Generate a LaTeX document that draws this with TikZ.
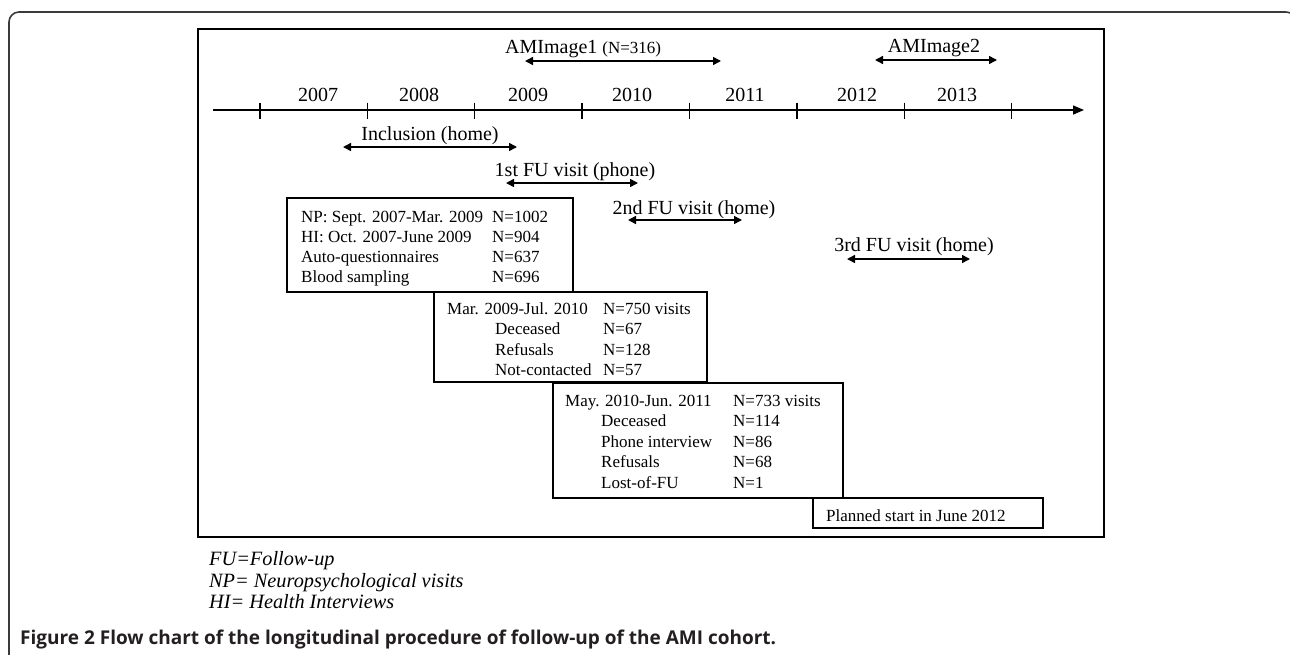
\documentclass[tikz,border=0pt]{standalone}
\usepackage{fontspec}
\setmainfont{Liberation Serif}
\newfontfamily\capfont{Open Sans}
\usetikzlibrary{arrows.meta}
\definecolor{framegray}{HTML}{3A3A3A}
\definecolor{capcol}{HTML}{231F20}
\begin{document}
\begin{tikzpicture}[x=1pt,y=-1pt,
  tl/.style={font=\fontsize{20}{24}\selectfont, inner sep=0pt, anchor=base},
  bt/.style={font=\fontsize{17}{20}\selectfont, inner sep=0pt, anchor=base west},
  fn/.style={font=\itshape\fontsize{20.3}{22}\selectfont, inner sep=0pt, anchor=base west},
  bx/.style={draw, line width=1.5pt, inner sep=0pt, outer sep=0pt, anchor=north west},
  span/.style={{Triangle[length=8pt,width=8pt]}-{Triangle[length=8pt,width=8pt]}, line width=1.5pt},
  axisline/.style={-{Triangle[length=11pt,width=9pt]}, line width=1.5pt},
  tick/.style={line width=1.6pt}]
\useasboundingbox (0,0) rectangle (1290,654);
% outer frame
\begin{scope}
  \clip (0,0) rectangle (1290,654);
  \draw[framegray, line width=1.6pt, rounded corners=10pt] (9,700) -- (9,12) -- (1296,12) -- (1296,700);
\end{scope}
% inner frame
\node[bx, line width=1.9pt, minimum width=906pt, minimum height=508pt] (frame) at (198,29) {};
% axis
\coordinate (axS) at (213,110);
\coordinate (axE) at (1084,110);
\draw[axisline] (axS) -- (axE);
\foreach \x in {260,367.3,474.6,582,689.5,797,904.3,1011.6}
  \draw[tick] (\x,102.5) -- (\x,118.5);
% years
\node[tl] (y2007) at (318,101.5) {2007};
\node[tl] (y2008) at (419,101.5) {2008};
\node[tl] (y2009) at (528,101.5) {2009};
\node[tl] (y2010) at (632,101.5) {2010};
\node[tl] (y2011) at (745,101.5) {2011};
\node[tl] (y2012) at (857,101.5) {2012};
\node[tl] (y2013) at (957,101.5) {2013};
% AMImage
\node[tl, anchor=base west] (ami1) at (505,53) {AMImage1 {\fontsize{17}{20}\selectfont(N=316)}};
\coordinate (ami1L) at (525,61);
\coordinate (ami1R) at (721,61);
\draw[span] (ami1L) -- (ami1R);
\node[tl] (ami2) at (934,52) {AMImage2};
\coordinate (ami2L) at (875,60);
\coordinate (ami2R) at (997,60);
\draw[span] (ami2L) -- (ami2R);
% periods
\node[tl] (incl) at (430,140) {Inclusion (home)};
\coordinate (inclL) at (343,147);
\coordinate (inclR) at (517,147);
\draw[span] (inclL) -- (inclR);
\node[tl] (fu1) at (575,176) {1st FU visit (phone)};
\coordinate (fu1L) at (506,183);
\coordinate (fu1R) at (638,183);
\draw[span] (fu1L) -- (fu1R);
\node[tl] (fu2) at (694,214) {2nd FU visit (home)};
\coordinate (fu2L) at (628,220);
\coordinate (fu2R) at (742,220);
\draw[span] (fu2L) -- (fu2R);
\node[tl] (fu3) at (914,251) {3rd FU visit (home)};
\coordinate (fu3L) at (847,259);
\coordinate (fu3R) at (970,259);
\draw[span] (fu3L) -- (fu3R);
% box 1
\node[bx, minimum width=286pt, minimum height=94pt] (b1) at (287,198) {};
\node[bt] (b1a) at (301,222.5) {NP: Sept. 2007-Mar. 2009};
\node[bt] (b1b) at (301,242.5) {HI: Oct. 2007-June 2009};
\node[bt] (b1c) at (301,262.5) {Auto-questionnaires};
\node[bt] (b1d) at (301,282.5) {Blood sampling};
\node[bt] (b1an) at (492,222.5) {N=1002};
\node[bt] (b1bn) at (492,242.5) {N=904};
\node[bt] (b1cn) at (492,262.5) {N=637};
\node[bt] (b1dn) at (492,282.5) {N=696};
% box 2
\node[bx, minimum width=273pt, minimum height=90pt] (b2) at (434,292) {};
\node[bt] (b2a) at (447,314) {Mar. 2009-Jul. 2010};
\node[bt] (b2b) at (495,334.5) {Deceased};
\node[bt] (b2c) at (495,355) {Refusals};
\node[bt] (b2d) at (495,375.5) {Not-contacted};
\node[bt] (b2an) at (603,314) {N=750 visits};
\node[bt] (b2bn) at (603,334.5) {N=67};
\node[bt] (b2cn) at (603,355) {N=128};
\node[bt] (b2dn) at (603,375.5) {N=57};
% box 3
\node[bx, minimum width=290pt, minimum height=115pt] (b3) at (553,383) {};
\node[bt] (b3a) at (565,406) {May. 2010-Jun. 2011};
\node[bt] (b3b) at (601,426.5) {Deceased};
\node[bt] (b3c) at (601,447) {Phone interview};
\node[bt] (b3d) at (601,467.5) {Refusals};
\node[bt] (b3e) at (601,488) {Lost-of-FU};
\node[bt] (b3an) at (733,406) {N=733 visits};
\node[bt] (b3bn) at (733,426.5) {N=114};
\node[bt] (b3cn) at (733,447) {N=86};
\node[bt] (b3dn) at (733,467.5) {N=68};
\node[bt] (b3en) at (733,488) {N=1};
% box 4
\node[bx, minimum width=230pt, minimum height=30pt] (b4) at (813,498) {};
\node[bt] (b4a) at (826,521) {Planned start in June 2012};
% footnotes
\node[fn] (fnFU) at (209,565) {FU=Follow-up};
\node[fn] (fnNP) at (209,587) {NP= Neuropsychological visits};
\node[fn] (fnHI) at (209,608.5) {HI= Health Interviews};
% caption
\node[anchor=base west, inner sep=0pt, text=capcol, font=\capfont\bfseries\fontsize{19}{22}\selectfont] (cap) at (20,644) {Figure 2 Flow chart of the longitudinal procedure of follow-up of the AMI cohort.};
\end{tikzpicture}
\end{document}
